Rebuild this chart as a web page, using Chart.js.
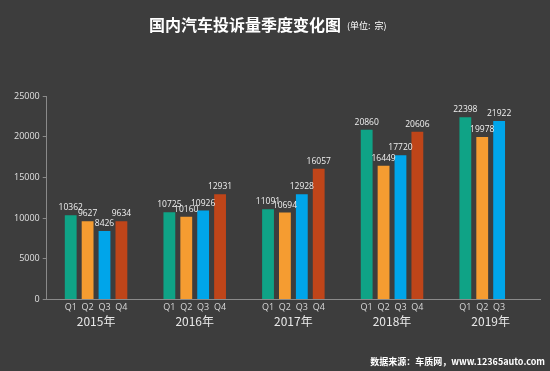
<!DOCTYPE html>
<html>
<head>
<meta charset="utf-8">
<script src="https://cdn.jsdelivr.net/npm/chart.js@4"></script>
<style>
  body { margin: 0; background: #3d3d3d; }
  #wrap { width: 550px; height: 371px; }
</style>
</head>
<body>
<div id="wrap"><canvas id="myChart" width="550" height="371"></canvas></div>
<script>
const years = ['2015年', '2016年', '2017年', '2018年', '2019年'];
const quarters = ['Q1', 'Q2', 'Q3', 'Q4'];
const q1 = [10362, 10725, 11091, 20860, 22398];
const q2 = [9627, 10160, 10694, 16449, 19978];
const q3 = [8426, 10926, 12928, 17720, 21922];
const q4 = [9634, 12931, 16057, 20606, null];
const yTicks = [0, 5000, 10000, 15000, 20000, 25000];

const colors = ['#0fa386', '#f59c31', '#00a5ea', '#bf4519'];
const cjk = '"Noto Sans CJK SC", sans-serif';

// titulo, fonte, rotulos Q e valores
const extras = {
  id: 'extras',
  afterDraw(chart) {
    const c = chart.ctx;
    const x = chart.scales.x;
    c.save();
    chart.data.datasets.forEach((ds, i) => {
      const meta = chart.getDatasetMeta(i);
      meta.data.forEach((bar, j) => {
        if (ds.data[j] == null) return;
        c.fillStyle = '#f0f0f0';
        c.font = '8.5px "Open Sans", sans-serif';
        c.textAlign = 'center';
        c.textBaseline = 'bottom';
        c.fillText(ds.data[j], bar.x, bar.y - 3);
        c.fillStyle = '#d8d8d8';
        c.font = '9px "Open Sans", sans-serif';
        c.textBaseline = 'middle';
        c.fillText(quarters[i], bar.x, x.top + 8);
      });
    });
    // titulo
    c.textBaseline = 'middle';
    c.textAlign = 'left';
    c.fillStyle = '#ffffff';
    c.font = 'bold 16px ' + cjk;
    const t1 = '国内汽车投诉量季度变化图';
    c.fillText(t1, 149, 25);
    const w = c.measureText(t1).width;
    c.font = '9px ' + cjk;
    c.fillText('(单位:  宗)', 149 + w + 6, 26);
    // fonte
    c.textAlign = 'right';
    c.font = 'bold 9px ' + cjk;
    c.fillText('数据来源：车质网，www.12365auto.com', 545, 362);
    c.restore();
  }
};

new Chart(document.getElementById('myChart'), {
  type: 'bar',
  data: {
    labels: years,
    datasets: [
      { label: 'Q1', data: q1, backgroundColor: colors[0] },
      { label: 'Q2', data: q2, backgroundColor: colors[1] },
      { label: 'Q3', data: q3, backgroundColor: colors[2] },
      { label: 'Q4', data: q4, backgroundColor: colors[3] }
    ]
  },
  options: {
    responsive: false,
    animation: false,
    categoryPercentage: 0.685,
    barPercentage: 0.7,
    layout: { padding: { top: 96, right: 10, left: 11, bottom: 35 } },
    plugins: { legend: { display: false }, tooltip: { enabled: false } },
    scales: {
      x: {
        grid: { display: false },
        border: { color: '#8a8a8a' },
        ticks: { color: '#e8e8e8', padding: 7, font: { family: cjk, size: 12 } }
      },
      y: {
        min: 0,
        max: 25000,
        afterBuildTicks: (axis) => { axis.ticks = yTicks.map(v => ({ value: v })); },
        grid: { drawOnChartArea: false, tickLength: 4, color: '#8a8a8a' },
        border: { color: '#8a8a8a' },
        ticks: {
          color: '#e0e0e0', padding: 3,
          font: { family: '"Open Sans", sans-serif', size: 9 },
          callback: (v) => String(v)
        }
      }
    }
  },
  plugins: [extras]
});
</script>
</body>
</html>
